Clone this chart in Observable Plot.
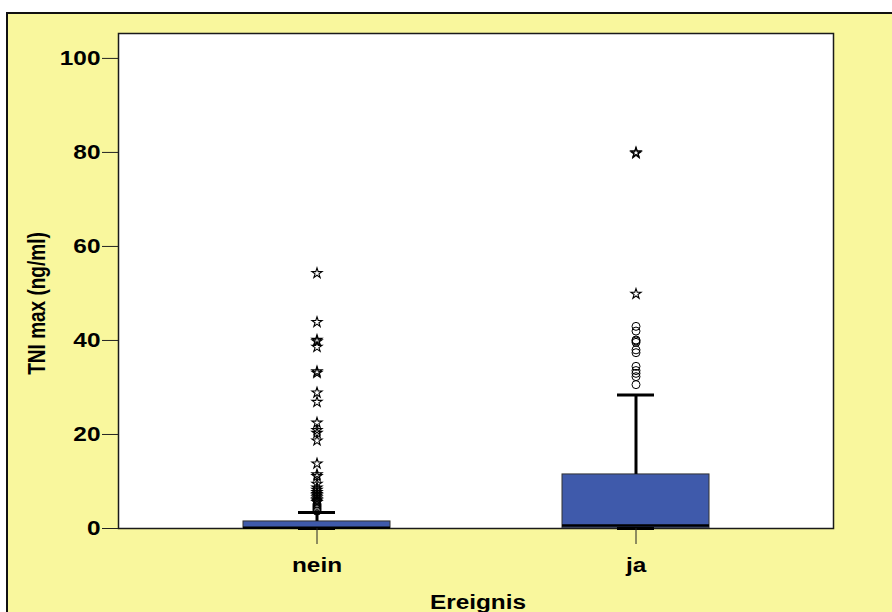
<!DOCTYPE html>
<html>
<head>
<meta charset="utf-8">
<script src="https://cdn.jsdelivr.net/npm/d3@7"></script>
<script src="https://cdn.jsdelivr.net/npm/@observablehq/plot@0.6"></script>
<style>
  html, body { margin: 0; padding: 0; background: #ffffff; }
  #page { position: relative; width: 892px; height: 612px; overflow: hidden; }
  #sheet { position: absolute; left: 6px; top: 12px; width: 1000px; height: 1000px;
           background: #f9f79d; border: 2px solid #111; }
  #chart { position: absolute; left: 0; top: 0; }
</style>
</head>
<body>
<div id="page"><div id="sheet"></div><div id="chart"></div></div>
<script>
// Groups (event yes / no)
const categories = ["nein", "ja"];

// Box summary per group: quartiles, median and whisker ends (ng/ml)
const q1 = [0.05, 0.05];
const median = [0.15, 0.65];
const q3 = [1.5, 11.5];
const whiskerLow = [0, 0];
const whiskerHigh = [3.4, 28.4];

// Outliers (> 1.5 IQR, circles) and extreme values (> 3 IQR, stars)
const outliersNein = [3.7, 4.0, 4.3, 4.6, 4.9, 5.2];
const extremesNein = [54.3, 43.9, 40.1, 39.8, 38.6, 33.4, 33.1, 28.9, 26.9, 22.5, 20.9, 20.3, 18.7,
                      13.8, 11.5, 11.1, 9.5, 8.7, 8.2, 7.7, 7.3, 7.0, 6.6, 6.2, 5.9, 5.6];
const outliersJa = [43.0, 42.0, 40.1, 39.9, 39.6, 38.0, 37.4, 34.5, 33.6, 33.0, 32.3, 30.6];
const extremesJa = [80.0, 79.8, 49.9];

// Axis ticks and titles
const yTicks = [0, 20, 40, 60, 80, 100];
const yTitle = "TNI max (ng/ml)";
const xTitle = "Ereignis";

const boxes = categories.map((group, i) => ({
  group, q1: q1[i], median: median[i], q3: q3[i], lo: whiskerLow[i], hi: whiskerHigh[i]
}));
const circles = [
  ...outliersNein.map(value => ({group: "nein", value})),
  ...outliersJa.map(value => ({group: "ja", value}))
];
const stars = [
  ...extremesNein.map(value => ({group: "nein", value})),
  ...extremesJa.map(value => ({group: "ja", value}))
];

const font = "'Liberation Sans', Arial, sans-serif";
const fs = 19.5;

const chart = Plot.plot({
  width: 892,
  height: 612,
  marginLeft: 118,
  marginRight: 59,
  marginTop: 33,
  marginBottom: 84,
  style: {background: "transparent", fontFamily: font, fontWeight: "bold", color: "#000"},
  x: {domain: categories, paddingInner: 0.54, paddingOuter: 0.3875},
  y: {domain: [0, 105.3]},
  marks: [
    Plot.frame({fill: "white", stroke: "#1a1a1a", strokeWidth: 1.5}),
    // boxes
    Plot.barY(boxes, {x: "group", y1: "q1", y2: "q3", fill: "#3f5aab", stroke: "#333", strokeWidth: 1}),
    // whiskers
    Plot.ruleX(boxes, {x: "group", y1: "q3", y2: "hi", stroke: "black", strokeWidth: 3}),
    Plot.ruleX(boxes, {x: "group", y1: "lo", y2: "q1", stroke: "black", strokeWidth: 3}),
    Plot.tickY(boxes, {x: "group", y: "hi", stroke: "black", strokeWidth: 3, insetLeft: 55, insetRight: 55}),
    Plot.tickY(boxes, {x: "group", y: "lo", stroke: "black", strokeWidth: 3, insetLeft: 55, insetRight: 55}),
    // medians
    Plot.tickY(boxes, {x: "group", y: "median", stroke: "black", strokeWidth: 2.5}),
    // outliers and extremes
    Plot.dot(circles, {x: "group", y: "value", r: 4, stroke: "black", fill: "none", strokeWidth: 1}),
    Plot.dot(stars, {x: "group", y: "value", symbol: "star", r: 3.2, stroke: "black", fill: "none", strokeWidth: 1.1}),
    // axes
    Plot.axisY({ticks: yTicks, tickSize: 16, tickPadding: 2, fontSize: fs, label: null, stroke: "#222"}),
    Plot.axisX({tickSize: 16, tickPadding: 14, fontSize: fs, label: null, stroke: "#222"}),
    Plot.text([yTitle], {frameAnchor: "left", dx: -81, dy: 22.5, rotate: -90, textAnchor: "middle",
                         lineAnchor: "middle", fontSize: 19, fontWeight: "bold"}),
    Plot.text([xTitle], {frameAnchor: "bottom", dy: 74, dx: 2, textAnchor: "middle", lineAnchor: "middle",
                         fontSize: fs, fontWeight: "bold"})
  ]
});

document.getElementById("chart").appendChild(chart);

// Widen the lettering horizontally (screen x), keeping each label's anchor edge fixed
function stretchText(selector, anchor, k) {
  chart.querySelectorAll(selector).forEach(el => {
    const r = el.getBoundingClientRect();
    const sx = anchor === "end" ? r.right : anchor === "start" ? r.left : (r.left + r.right) / 2;
    const p = chart.createSVGPoint();
    p.x = sx; p.y = 0;
    const q = p.matrixTransform(el.parentNode.getScreenCTM().inverse());
    const t = el.getAttribute("transform") || "";
    el.setAttribute("transform", `translate(${q.x},0) scale(${k},1) translate(${-q.x},0) ${t}`);
  });
}
stretchText('g[aria-label="y-axis tick label"] text', "end", 1.25);
stretchText('g[aria-label="x-axis tick label"] text', "middle", 1.25);
stretchText('g[aria-label="text"] text', "middle", 1.25);
</script>
</body>
</html>
